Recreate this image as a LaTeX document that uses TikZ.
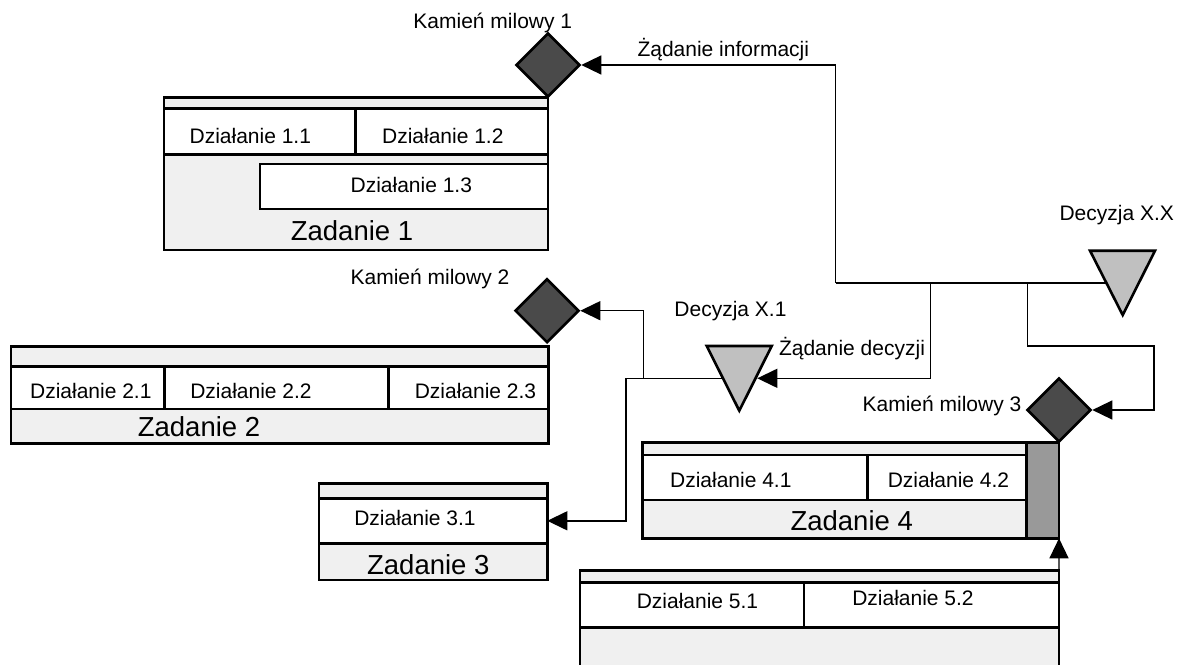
\documentclass[tikz,border=0pt]{standalone}
\usepackage{fontspec}
\setmainfont{Liberation Sans}
\usetikzlibrary{arrows.meta,shapes.geometric,fit}
\definecolor{taskgray}{HTML}{F0F0F0}
\definecolor{milegray}{HTML}{4A4A4A}
\definecolor{decgray}{HTML}{C0C0C0}
\definecolor{bargray}{HTML}{999999}
\begin{document}
\begin{tikzpicture}[x=1pt,y=-1pt,
  task/.style={draw, line width=2.6pt, fill=taskgray, inner sep=0pt, outer sep=0pt},
  act/.style={draw, line width=2.6pt, fill=white, inner sep=0pt, outer sep=0pt},
  barbox/.style={draw, line width=2.6pt, fill=bargray, inner sep=0pt, outer sep=0pt},
  txt/.style={font=\fontsize{21}{25}\selectfont, inner sep=0pt, anchor=base},
  big/.style={font=\fontsize{27.5}{32}\selectfont, inner sep=0pt, anchor=base},
  mile/.style={diamond, draw, line width=2.6pt, fill=milegray, aspect=1,
    minimum width=64pt, minimum height=64pt, inner sep=0pt},
  dec/.style={draw, line width=2.6pt, fill=decgray, line join=miter},
  conn/.style={line width=1.4pt},
  arr/.style={conn, -{Triangle[length=20pt,width=19pt]}},
]
\useasboundingbox[fill=white] (0,0) rectangle (1178,664);

% Zadanie 1
\node[task, fit={(164,97.7) (548,250)}] (z1) {};
\node[act, fit={(164,108.7) (355.7,154.3)}] (a11) {};
\node[act, fit={(355.7,108.7) (548,154.3)}] (a12) {};
\node[act, fit={(260,164) (548,209)}] (a13) {};
\node[txt] (l11) at (250.3,143.5) {Działanie 1.1};
\node[txt] (l12) at (442.8,143.5) {Działanie 1.2};
\node[txt] (l13) at (411.3,192.7) {Działanie 1.3};
\node[big] (lz1) at (352,240.7) {Zadanie 1};

% Zadanie 2
\node[task, fit={(11,346.7) (548.3,443.3)}] (z2) {};
\node[act, fit={(11,366.7) (164.3,409)}] (a21) {};
\node[act, fit={(164.3,366.7) (388.3,409)}] (a22) {};
\node[act, fit={(388.3,366.7) (548.3,409)}] (a23) {};
\node[txt] (l21) at (90.8,398.3) {Działanie 2.1};
\node[txt] (l22) at (251,398.3) {Działanie 2.2};
\node[txt] (l23) at (475.5,398.3) {Działanie 2.3};
\node[big] (lz2) at (199,436.7) {Zadanie 2};

% Zadanie 3
\node[task, fit={(319,483.3) (547.3,580)}] (z3) {};
\node[act, fit={(319,498.3) (547.3,543.3)}] (a31) {};
\node[txt] (l31) at (415,525) {Działanie 3.1};
\node[big] (lz3) at (428.3,574) {Zadanie 3};

% Zadanie 4
\node[task, fit={(642.7,442.7) (1026.7,538.3)}] (z4) {};
\node[act, fit={(642.7,455) (867.3,500)}] (a41) {};
\node[act, fit={(867.3,455) (1026.7,500)}] (a42) {};
\node[barbox, fit={(1026.7,442.7) (1059,538.3)}] (bar) {};
\node[txt] (l41) at (730.8,487.3) {Działanie 4.1};
\node[txt] (l42) at (948.5,487.3) {Działanie 4.2};
\node[big] (lz4) at (851.7,530) {Zadanie 4};

% Zadanie 5
\node[task, fit={(580,570.7) (1059,690)}] (z5) {};
\node[act, fit={(580,582.7) (804,627.7)}] (a51) {};
\node[act, fit={(804,582.7) (1059,627.7)}] (a52) {};
\node[txt] (l51) at (697.5,608.3) {Działanie 5.1};
\node[txt] (l52) at (913,605.7) {Działanie 5.2};

% Milestones
\node[mile] (m1) at (548,65) {};
\node[mile] (m2) at (547,310.7) {};
\node[mile] (m3) at (1059,410) {};
\node[txt] (lm1) at (492.8,28.3) {Kamień milowy 1};
\node[txt] (lm2) at (430,284.5) {Kamień milowy 2};
\node[txt] (lm3) at (942,411.5) {Kamień milowy 3};

% Decisions
\coordinate (d1a) at (706.7,346);
\coordinate (d1b) at (771.7,346);
\coordinate (d1c) at (739.3,410.7);
\draw[dec] (d1a) -- (d1b) -- (d1c) -- cycle;
\coordinate (t1r) at (757.3,378.3);
\coordinate (t1l) at (722.8,378.3);
\coordinate (d2a) at (1090,250.7);
\coordinate (d2b) at (1155,250.7);
\coordinate (d2c) at (1122.7,315);
\draw[dec] (d2a) -- (d2b) -- (d2c) -- cycle;
\coordinate (t2l) at (1105.5,283);
\node[txt] (ld1) at (730.5,316) {Decyzja X.1};
\node[txt] (ld2) at (1116.7,220) {Decyzja X.X};

% Connectors
\coordinate (jI) at (835.5,283);
\coordinate (j1) at (930.7,283);
\coordinate (j2) at (1027.3,283);
\coordinate (k1) at (1154,346);
\coordinate (j3) at (643.3,378.3);
\coordinate (k2) at (626,378.3);
\draw[conn] (t2l) -- (jI);
\draw[arr] (jI) |- (m1.east);
\draw[arr] (j1) |- (t1r);
\draw[arr] (j2) |- (k1) |- (m3.east);
\draw[conn] (t1l) -- (k2);
\draw[arr] (k2) |- (a31.east);
\draw[arr] (j3) |- (m2.east);
\draw[arr] (z5.north east) -- (bar.south east);

\node[txt] (lq1) at (723.3,56) {Żądanie informacji};
\node[txt] (lq2) at (852,355) {Żądanie decyzji};
\end{tikzpicture}
\end{document}
